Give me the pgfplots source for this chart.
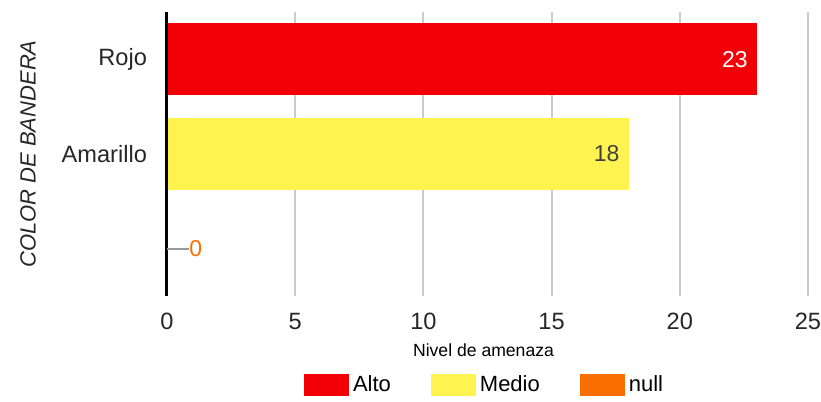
\documentclass[border=0pt]{standalone}
\usepackage{pgfplots}
\pgfplotsset{compat=1.18}
\usepackage{fontspec}
\setmainfont{Liberation Sans}
\definecolor{cRed}{HTML}{F20008}
\definecolor{cYel}{HTML}{FFF350}
\definecolor{cOra}{HTML}{F86E00}
\definecolor{cGrid}{HTML}{CCCCCC}
\begin{document}
\begin{tikzpicture}
\useasboundingbox (-83.5pt,-53pt) rectangle (327pt,148pt);
\begin{axis}[
  at={(0,0)}, anchor=south west,
  scale only axis, width=320.5pt, height=142pt,
  xbar, bar shift=0pt, bar width=0.76,
  y dir=reverse,
  xmin=0, xmax=25, ymin=-0.5, ymax=2.5,
  xtick={0,5,...,25},
  ytick={0,1}, yticklabels={Rojo,Amarillo},
  /pgf/number format/assume math mode=true,
  ticklabel style={font=\fontsize{11.8}{13}\selectfont, text=black!85},
  xticklabel style={yshift=-5pt},
  yticklabel style={xshift=-6.5pt},
  major tick length=0pt,
  axis line style={draw=none},
  xmajorgrids, grid style={cGrid, line width=1pt},
  xlabel={Nivel de amenaza},
  xlabel style={font=\fontsize{8.8}{10}\selectfont, yshift=0pt, xshift=-2pt},
  ylabel={\itshape COLOR DE BANDERA},
  ylabel style={font=\fontsize{11}{13}\selectfont, text=black!85, at={(axis description cs:0,0.5)}, anchor=center, yshift=69.5pt},
  legend style={at={(0.497,-0.313)}, anchor=center, draw=none, legend columns=3,
    font=\fontsize{11}{13}\selectfont,
    /tikz/every even column/.append style={column sep=18pt}},
  legend image code/.code={\fill[#1] (0pt,-5.5pt) rectangle (22.5pt,5.5pt);},
  clip=false,
]
\addplot[fill=cRed, draw=none,
  nodes near coords, every node near coord/.append style={anchor=east, text=white, font=\fontsize{11.5}{13}\selectfont, xshift=-1pt}]
  coordinates {(23,0)};
\addlegendentry{Alto}
\addplot[fill=cYel, draw=none,
  nodes near coords, every node near coord/.append style={anchor=east, text=black!75, font=\fontsize{11.5}{13}\selectfont, xshift=-1pt}]
  coordinates {(18,1)};
\addlegendentry{Medio}
\addplot[fill=cOra, draw=none,
  nodes near coords={\textcolor{gray!80}{\rule[0.55ex]{11pt}{0.8pt}}\textcolor{cOra}{0}},
  every node near coord/.append style={anchor=west, inner sep=0pt, font=\fontsize{11.5}{13}\selectfont}]
  coordinates {(0,2)};
\addlegendentry{null}
\draw[black, line width=1.5pt] (axis cs:0,-0.5) -- (axis cs:0,2.5);
\end{axis}
\end{tikzpicture}
\end{document}
